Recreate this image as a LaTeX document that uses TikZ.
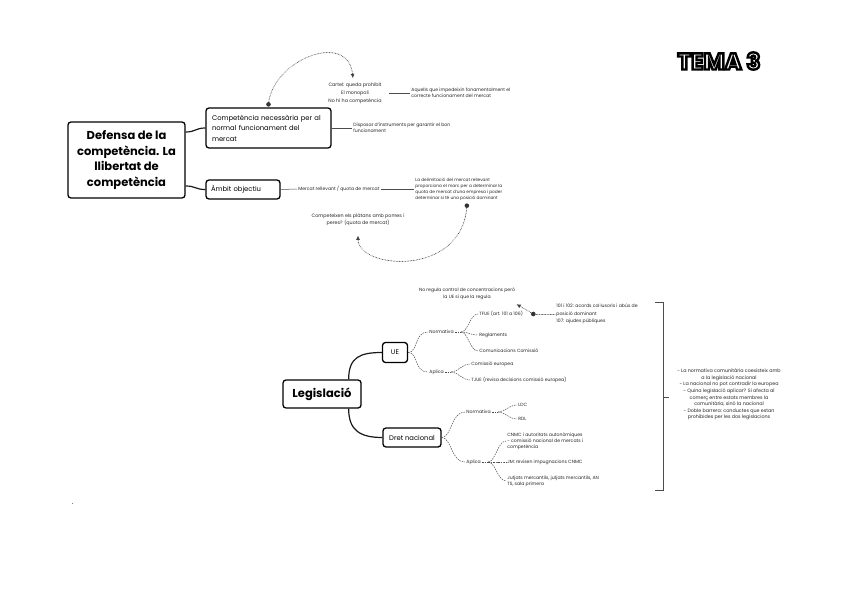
\documentclass[tikz,border=0pt]{standalone}
\usepackage{fontspec}
\setmainfont{Poppins}
\usetikzlibrary{arrows.meta,calc}
\newcommand{\outlinedtext}[3]{\special{pdf:literal direct #1 #2 w 2 Tr}#3\special{pdf:literal direct 0 Tr}}
\tikzset{
 box/.style={draw=black, line width=1.3pt, rounded corners=3pt, fill=white, inner sep=0pt},
 note/.style={font=\fontsize{4.6}{6}\selectfont, inner sep=1.2pt, text=black!85},
 con/.style={line width=1.2pt, draw=black!90},
 thinline/.style={line width=0.5pt, draw=black!70},
 dcon/.style={line width=0.5pt, draw=black!70, dash pattern=on 1.5pt off 1pt},
 relline/.style={line width=0.9pt, draw=black!75, dash pattern=on 0.05pt off 1.5pt, line cap=round},
 reltip/.style={-{Latex[length=4.5pt,width=4pt]}},
 tema/.style={font=\fontsize{23}{23}\bfseries\selectfont, inner sep=0pt},
}
\begin{document}
\begin{tikzpicture}[x=1pt,y=-1pt]
\useasboundingbox (0,0) rectangle (848,599);
\fill[white] (0,0) rectangle (848,599);

% TEMA 3
\node[tema, text=white] (tema) at (719,61) {\outlinedtext{0 G}{2.4}{TEMA 3}};

% ---------- top map ----------
\node[box, minimum width=117pt, minimum height=76pt, align=center, font=\fontsize{11.5}{15.5}\bfseries\selectfont] (root) at (126.5,160) {Defensa de la\\competència. La\\llibertat de\\competència};
\node[box, minimum width=125pt, minimum height=40pt, text width=113pt, align=left, font=\fontsize{6.8}{10.5}\selectfont] (comp) at (268.5,128) {Competència necessària per al\\normal funcionament del\\mercat};
\node[box, minimum width=74pt, minimum height=19pt, text width=64pt, align=left, font=\fontsize{6.8}{8}\selectfont] (ambit) at (243,189.5) {Àmbit objectiu};

\draw[con] ($(root.east)+(0,-28)$) .. controls +(10,0) and +(-10,0) .. (comp.west);
\draw[con] ($(root.east)+(0,26)$) .. controls +(10,0) and +(-10,0) .. (ambit.west);

\node[note, anchor=west, align=left] (disp) at (352,128) {Disposar d'instruments per garantir el bon\\funcionament};
\draw[thinline] (comp.east) -- (disp.west);

\node[note, align=center, font=\fontsize{4.8}{7.8}\selectfont] (cartel) at (355,93) {Cartel: queda prohibit\\El monopoli\\No hi ha competència};
\node[note, anchor=west, align=left] (aquells) at (410,93) {Aquells que impedeixin fonamentalment el\\correcte funcionament del mercat};
\draw[thinline] ($(cartel.east)+(6,0)$) -- (aquells.west);

\coordinate (dotA) at ($(comp.north)+(0,-3)$);
\draw[relline, reltip] (dotA) .. controls (272,60) and (348,30) .. ($(cartel.north)+(-2,-3)$);
\fill[black!80] (dotA) circle (2.3pt);

\node[note, anchor=west] (mercat) at (297,189) {Mercat rellevant / quota de mercat};
\draw[thinline] (ambit.east) -- (mercat.west);
\node[note, anchor=west, align=left, font=\fontsize{4.3}{6}\selectfont] (delim) at (414,189) {La delimitació del mercat rellevant\\proporciona el marc per a determinar la\\quota de mercat d'una empresa i poder\\determinar si té una posició dominant};
\draw[thinline] (mercat.east) -- (delim.west);

\node[note, align=center, font=\fontsize{4.8}{7}\selectfont] (compet) at (358,220) {Competeixen els plàtans amb pomes i\\peres? (quota de mercat)};
\coordinate (dotB) at ($(delim.south)+(8,4)$);
\draw[relline, reltip] (dotB) .. controls ($(dotB)+(-4,72)$) and ($(compet.south)+(0,42)$) .. ($(compet.south)+(0,8)$);
\fill[black!80] (dotB) circle (2.3pt);

% ---------- bottom map ----------
\node[box, minimum width=78pt, minimum height=28pt, font=\fontsize{11.5}{12}\bfseries\selectfont] (leg) at (322,394) {Legislació};
\node[box, minimum width=25pt, minimum height=20pt, font=\fontsize{6.8}{8}\selectfont] (ue) at (395,352.5) {UE};
\node[box, minimum width=58pt, minimum height=19pt, font=\fontsize{6.8}{8}\selectfont] (dn) at (412,437.5) {Dret nacional};

\draw[con] ($(leg.north east)+(-13,0)$) .. controls +(0,-22) and +(-22,0) .. (ue.west);
\draw[con] ($(leg.south east)+(-13,0)$) .. controls +(0,22) and +(-22,0) .. (dn.west);

% UE branch
\node[note, anchor=west] (nUE) at (428,332) {Normativa};
\node[note, anchor=west] (aUE) at (428,372) {Aplica};
\draw[dcon] (ue.east) .. controls +(10,0) and +(-14,0) .. (nUE.west);
\draw[dcon] (ue.east) .. controls +(10,0) and +(-14,0) .. (aUE.west);

\coordinate (bnUE) at ($(nUE.east)+(6,0)$);
\draw[dcon] (nUE.east) -- (bnUE);
\node[note, anchor=west] (tfue) at (478,314) {TFUE (art. 101 a 106)};
\node[note, anchor=west] (regl) at (478,335) {Reglaments};
\node[note, anchor=west] (comun) at (478,351) {Comunicacions Comissió};
\draw[dcon] (bnUE) .. controls +(7,0) and +(-8,0) .. (tfue.west);
\draw[dcon] (bnUE) .. controls +(7,0) and +(-8,0) .. (regl.west);
\draw[dcon] (bnUE) .. controls +(7,0) and +(-8,0) .. (comun.west);

\coordinate (baUE) at ($(aUE.east)+(6,0)$);
\draw[dcon] (aUE.east) -- (baUE);
\node[note, anchor=west] (comEU) at (470,364) {Comissió europea};
\node[note, anchor=west] (tjue) at (470,380) {TJUE (revisa decisions comissió europea)};
\draw[dcon] (baUE) .. controls +(7,0) and +(-8,0) .. (comEU.west);
\draw[dcon] (baUE) .. controls +(7,0) and +(-8,0) .. (tjue.west);

\node[note, align=center, font=\fontsize{4.6}{6.5}\selectfont] (noreg) at (467,294) {No regula control de concentracions però\\la UE sí que la regula};
\node[note, anchor=west, align=left, font=\fontsize{4.6}{7.5}\selectfont] (art101) at (555,314) {101 i 102: acords col·lusoris i abús de\\posició dominant\\107: ajudes públiques};
\coordinate (dotC) at ($(tfue.east)+(9,0)$);
\draw[relline] (dotC) -- (art101.west);
\draw[relline, reltip] (dotC) -- ($(noreg.south east)+(0,3)$);
\fill[black!80] (dotC) circle (2.3pt);

% Dret nacional branch
\node[note, anchor=west] (nDN) at (465,412) {Normativa};
\node[note, anchor=west] (aDN) at (465,462) {Aplica};
\draw[dcon] (dn.east) .. controls +(10,0) and +(-14,0) .. (nDN.west);
\draw[dcon] (dn.east) .. controls +(10,0) and +(-14,0) .. (aDN.west);

\coordinate (bnDN) at ($(nDN.east)+(6,0)$);
\draw[dcon] (nDN.east) -- (bnDN);
\node[note, anchor=west] (ldc) at (517,405) {LDC};
\node[note, anchor=west] (rdl) at (517,419) {RDL};
\draw[dcon] (bnDN) .. controls +(7,0) and +(-8,0) .. (ldc.west);
\draw[dcon] (bnDN) .. controls +(7,0) and +(-8,0) .. (rdl.west);

\coordinate (baDN) at ($(aDN.east)+(6,0)$);
\draw[dcon] (aDN.east) -- (baDN);
\node[note, anchor=west, align=left] (cnmc) at (506,441) {CNMC i autoritats autonòmiques\\- comissió nacional de mercats i\\competència};
\node[note, anchor=west] (jm) at (506,462) {JM: revisen impugnacions CNMC};
\node[note, anchor=west, align=left] (jutj) at (506,481) {Jutjats mercantils, jutjats mercantils, AN\\TS, sala primera};
\draw[dcon] (baDN) .. controls +(7,0) and +(-8,0) .. (cnmc.west);
\draw[dcon] (baDN) .. controls +(7,0) and +(-8,0) .. (jm.west);
\draw[dcon] (baDN) .. controls +(7,0) and +(-8,0) .. (jutj.west);

% summary bracket
\coordinate (brTop) at (663,302);
\coordinate (brBot) at (663,490);
\coordinate (brMid) at (663,397);
\draw[thinline, line width=0.7pt] ($(brTop)+(-8,0)$) -- (brTop) -- (brBot) -- ($(brBot)+(-8,0)$);
\node[note, align=center, font=\fontsize{4.8}{6.6}\selectfont] (summary) at (729,394.5) {- La normativa comunitària coexisteix amb\\a la legislació nacional\\- La nacional no pot contradir la europea\\- Quina legislació aplicar? Si afecta al\\comerç entre estats membres la\\comunitària, sinó la nacional\\- Doble barrera: conductes que estan\\prohibides per les dos legislacions};
\draw[thinline, line width=0.7pt] (brMid) -- +(6,0);

% tiny mark
\fill[black!50] (71.5,502.5) rectangle (73,504);
\end{tikzpicture}
\end{document}
